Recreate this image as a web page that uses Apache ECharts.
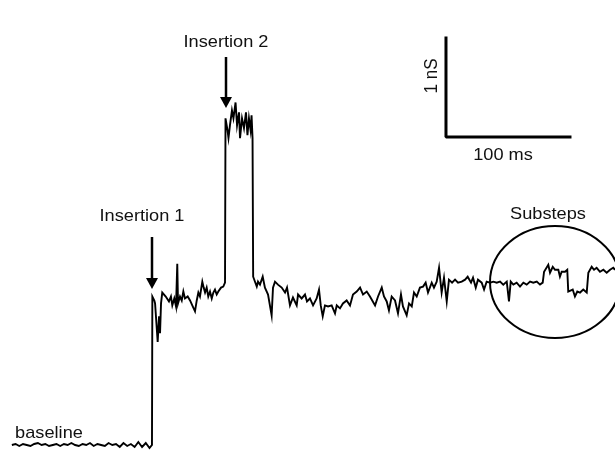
<!DOCTYPE html>
<html>
<head>
<meta charset="utf-8">
<script src="https://cdn.jsdelivr.net/npm/echarts@6/dist/echarts.min.js"></script>
<style>html,body{margin:0;padding:0;background:#fff}#c{width:615px;height:452px}</style>
</head>
<body>
<div id="c"></div>
<script>
// time (ms) , conductance above baseline (nS)
const baselineSegment = [
 [1.5,0.00],[4.5,0.01],[7.5,-0.01],[10.5,0.01],[13.5,0.00],[16.5,-0.01],[19.5,0.01],[22.5,0.02],
 [25.5,0.00],[28.5,0.01],[31.5,-0.01],[34.5,0.00],[37.5,0.01],[40.5,-0.01],[43.5,0.01],[46.5,0.00],
 [49.5,0.02],[52.5,0.00],[55.5,-0.01],[58.5,0.01],[61.5,0.00],[64.5,0.02],[67.5,-0.01],[70.5,0.01],
 [73.5,0.00],[76.5,-0.01],[79.5,0.02],[82.5,0.00],[85.5,0.01],[88.5,-0.02],[91.5,0.02],[94.5,-0.01],
 [97.5,0.01],[100.5,-0.02],[103.5,0.03],[106.5,-0.02],[109.5,0.02],[112.5,-0.03],[114.5,0.00]
];
const insertion1Segment = [
 [114.8,1.50],[116.4,1.46],[117.0,1.43],[118.3,1.19],[119.1,1.04],[120.2,1.30],[121.0,1.13],[121.8,1.43],
 [122.8,1.54],[124.4,1.55],[125.6,1.50],[127.2,1.52],[128.2,1.45],[129.8,1.50],[130.9,1.41],[132.5,1.48],
 [133.9,1.40],[134.9,1.83],[135.5,1.43],[137.1,1.50],[138.5,1.46],[139.8,1.55],[141.1,1.48],[143.3,1.50],
 [145.2,1.46],[147.0,1.41],[149.2,1.35],[150.6,1.46],[151.9,1.54],[153.2,1.50],[155.1,1.65],[156.2,1.59],
 [157.3,1.54],[158.6,1.59],[159.9,1.50],[161.3,1.55],[162.7,1.48],[164.0,1.54],[165.3,1.57],[166.7,1.52],
 [168.0,1.55],[170.2,1.59],[172.0,1.60],[173.4,1.64]
];
const insertion2Segment = [
 [173.8,3.30],[174.2,3.30],[175.4,3.18],[176.2,3.10],[177.4,3.23],[179.0,3.38],[180.2,3.30],[181.9,3.46],
 [183.1,3.23],[184.7,3.36],[185.5,3.10],[187.1,3.30],[188.7,3.20],[190.3,3.36],[191.5,3.13],[192.7,3.30],
 [194.0,3.18],[194.8,3.33],[195.6,3.10]
];
const recoverySegment = [
 [196.1,1.70],[199.0,1.60],[200.0,1.65],[201.6,1.62],[203.8,1.70],[205.6,1.59],[208.1,1.52],[211.0,1.31],
 [212.1,1.59],[213.7,1.65],[216.1,1.62],[219.1,1.59],[221.8,1.54],[223.4,1.59],[225.8,1.41],[228.2,1.49],
 [231.2,1.41],[232.3,1.52],[235.2,1.48],[237.9,1.52],[239.5,1.45],[241.9,1.48],[244.4,1.41],[247.3,1.48],
 [249.2,1.57],[250.6,1.41],[252.2,1.30],[254.0,1.41],[256.5,1.40],[259.4,1.41],[262.1,1.33],[263.5,1.41],
 [266.1,1.38],[268.5,1.43],[271.5,1.46],[274.2,1.41],[276.6,1.52],[279.6,1.55],[282.3,1.59],[284.7,1.52],
 [287.7,1.55],[290.3,1.50],[294.4,1.41],[296.8,1.50],[299.8,1.59],[301.6,1.50],[303.8,1.45],[305.6,1.36],
 [307.8,1.50],[310.5,1.46],[312.9,1.33],[315.3,1.52],[316.9,1.40],[319.9,1.31],[321.8,1.43],[324.0,1.40],
 [325.8,1.54],[328.0,1.50],[330.6,1.59],[333.1,1.60],[335.2,1.64],[337.1,1.54],[340.1,1.64],[341.9,1.59],
 [344.1,1.65],[346.0,1.79],[348.1,1.54],[350.0,1.69],[352.2,1.45],[354.0,1.67],[356.5,1.64],[358.9,1.67],
 [361.3,1.64],[364.3,1.65],[367.0,1.67],[369.1,1.70],[371.8,1.64],[373.4,1.69],[375.6,1.59],[377.4,1.67],
 [380.4,1.64],[382.3,1.57],[384.4,1.65],[387.1,1.64]
];
const substepSegment = [
 [389.8,1.65],[392.5,1.64],[395.2,1.65],[397.8,1.62],[400.6,1.65],[402.4,1.45],[403.8,1.65],[405.9,1.62],
 [408.6,1.64],[411.3,1.60],[414.0,1.64],[416.7,1.62],[419.4,1.65],[422.0,1.64],[424.8,1.65],[427.4,1.62],
 [429.6,1.64],[430.5,1.64],[430.7,1.75],[432.3,1.74],[434.1,1.82],[435.5,1.74],[437.7,1.80],[439.5,1.77],
 [442.2,1.77],[443.5,1.70],[444.9,1.75],[447.6,1.75],[449.4,1.77],[450.1,1.77],[450.2,1.55],[451.6,1.54],
 [453.8,1.57],[455.6,1.50],[457.5,1.55],[459.7,1.54],[462.3,1.57],[465.1,1.54],[466.3,1.54],[466.4,1.74],
 [469.1,1.80],[471.0,1.77],[473.1,1.79],[475.8,1.75],[478.5,1.77],[481.2,1.74],[483.9,1.77],[486.5,1.79],
 [487.9,1.77]
];
// scale bar: 100 ms x 1 nS
const scaleBarTimeMs = 100;
const scaleBarCondNs = 1;
const scaleBarOrigin = [351.6, 3.11];
const labels = {ins1: 'Insertion 1', ins2: 'Insertion 2', sub: 'Substeps', base: 'baseline', t: '100 ms', g: '1 nS'};

const trace = [].concat(baselineSegment, insertion1Segment, insertion2Segment, recoverySegment, substepSegment);
const scaleBar = [
  [scaleBarOrigin[0], scaleBarOrigin[1] + scaleBarCondNs],
  [scaleBarOrigin[0], scaleBarOrigin[1]],
  [scaleBarOrigin[0] + scaleBarTimeMs, scaleBarOrigin[1]]
];

const chart = echarts.init(document.getElementById('c'));
const font = 'Liberation Sans, Arial, sans-serif';
function txt(x, y, s, rot) {
  return {type: 'text', x: x, y: y, rotation: rot || 0, scaleX: rot ? 1 : 1.07, scaleY: rot ? 1.07 : 1,
    style: {text: s, fill: '#111', font: '17px ' + font, textAlign: 'center', textVerticalAlign: 'middle'}};
}
function arrow(x, y0, y1) {
  return [
    {type: 'line', shape: {x1: x, y1: y0, x2: x, y2: y1 - 8}, style: {stroke: '#000', lineWidth: 2.5}},
    {type: 'polygon', shape: {points: [[x - 6, y1 - 11], [x + 6, y1 - 11], [x, y1]]}, style: {fill: '#000'}}
  ];
}
chart.setOption({
  animation: false,
  backgroundColor: '#fff',
  grid: {left: 0, right: 0, top: 0, bottom: 0},
  xAxis: {type: 'value', min: -8.06, max: 487.9, show: false},
  yAxis: {type: 'value', min: -0.0707, max: 4.495, show: false},
  series: [
    {type: 'line', data: trace, showSymbol: false, symbol: 'none', clip: false,
     lineStyle: {color: '#000', width: 1.9, join: 'miter'}},
    {type: 'line', data: scaleBar, showSymbol: false, symbol: 'none',
     lineStyle: {color: '#000', width: 3, cap: 'square'}}
  ],
  graphic: [
    txt(142, 216, labels.ins1),
    txt(226, 42, labels.ins2),
    txt(548, 214, labels.sub),
    txt(49, 433, labels.base),
    txt(503, 155, labels.t),
    txt(432, 76, labels.g, Math.PI / 2),
    ...arrow(152, 237, 289),
    ...arrow(226, 57, 108),
    {type: 'ellipse', shape: {cx: 555, cy: 282, rx: 65, ry: 56}, style: {fill: 'none', stroke: '#000', lineWidth: 2}}
  ]
});
</script>
</body>
</html>
